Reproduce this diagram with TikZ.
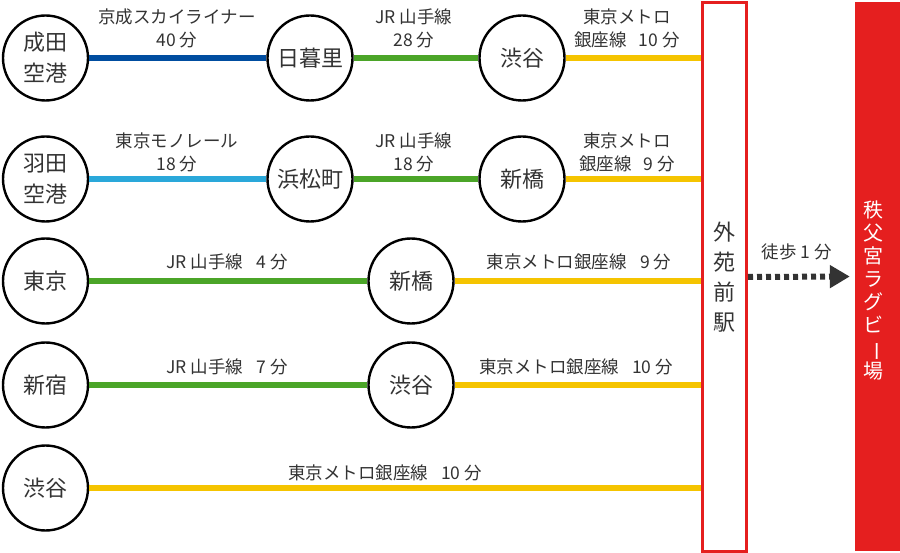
\documentclass[tikz,border=0pt]{standalone}
\usepackage{fontspec}
\setmainfont{Noto Sans CJK JP}
\usepackage{graphicx}
\usetikzlibrary{arrows.meta}
\definecolor{txtgray}{HTML}{333333}
\definecolor{keisei}{HTML}{004DA0}
\definecolor{monorail}{HTML}{2AA8DA}
\definecolor{yamanote}{HTML}{4BA528}
\definecolor{ginza}{HTML}{F5C400}
\definecolor{stadium}{HTML}{E51F1F}

\begin{document}
\begin{tikzpicture}[x=1pt,y=-1pt]
\tikzstyle{every node}+=[inner sep=0pt]
\tikzstyle{station}=[draw=black, circle, line width=2.4pt, minimum size=85pt, text=txtgray, font=\fontsize{22}{31}\selectfont, align=center]
\tikzstyle{railline}=[line width=6pt]
\tikzstyle{lbl}=[text=txtgray, font=\fontsize{17.5}{23}\selectfont, align=center]
\useasboundingbox (0,0) rectangle (900,553);
\node [draw=stadium, line width=3pt, minimum width=44pt, minimum height=548pt, text=txtgray, font=\fontsize{22}{30}\selectfont, align=center] (ekimae) at (724.5,277) {外\\苑\\前\\駅};
\node [fill=stadium, minimum width=45pt, minimum height=549pt] (rugby) at (877.5,276.5) {};
\node [text=white, font=\fontsize{20}{23}\selectfont, align=center] (rugbytext) at ([shift={(-4,14)}]rugby.center) {秩\\父\\宮\\ラ\\グ\\ビ\\\rotatebox[origin=c]{-90}{ー}\\場};
\node [station] (narita) at (45.5,58) {成田\\空港};
\node [station] (nippori) at (310,58) {日暮里};
\node [station] (shibuyaA) at (522,58) {渋谷};
\node [station] (haneda) at (45.5,179) {羽田\\空港};
\node [station] (hamamatsucho) at (310,179) {浜松町};
\node [station] (shinbashiA) at (522,179) {新橋};
\node [station] (tokyo) at (45.5,281) {東京};
\node [station] (shinbashiB) at (411,281) {新橋};
\node [station] (shinjuku) at (45.5,385) {新宿};
\node [station] (shibuyaB) at (411,385) {渋谷};
\node [station] (shibuyaC) at (45.5,488) {渋谷};
\draw [railline, keisei] (narita) -- (nippori);
\draw [railline, yamanote] (nippori) -- (shibuyaA);
\draw [railline, ginza] (shibuyaA) -- (shibuyaA -| ekimae.west);
\draw [railline, monorail] (haneda) -- (hamamatsucho);
\draw [railline, yamanote] (hamamatsucho) -- (shinbashiA);
\draw [railline, ginza] (shinbashiA) -- (shinbashiA -| ekimae.west);
\draw [railline, yamanote] (tokyo) -- (shinbashiB);
\draw [railline, ginza] (shinbashiB) -- (shinbashiB -| ekimae.west);
\draw [railline, yamanote] (shinjuku) -- (shibuyaB);
\draw [railline, ginza] (shibuyaB) -- (shibuyaB -| ekimae.west);
\draw [railline, ginza] (shibuyaC) -- (shibuyaC -| ekimae.west);
\node [lbl] (keiseilbl) at (177,28.5) {京成スカイライナー\\40 分};
\node [lbl] (yamanotelblA) at (414,28.5) {JR 山手線\\28 分};
\node [lbl] (ginzalblA) at (627,28.5) {東京メトロ\\銀座線\hspace{0.7em}10 分};
\node [lbl] (monorlbl) at (177,152) {東京モノレール\\18 分};
\node [lbl] (yamanotelblB) at (414,152) {JR 山手線\\18 分};
\node [lbl] (ginzalblB) at (627,152) {東京メトロ\\銀座線\hspace{0.7em}9 分};
\node [lbl] (yamanotelblC) at (227,262) {JR 山手線\hspace{0.75em}4 分};
\node [lbl] (ginzalblC) at (579,262) {東京メトロ銀座線\hspace{0.75em}9 分};
\node [lbl] (yamanotelblD) at (227,367) {JR 山手線\hspace{0.75em}7 分};
\node [lbl] (ginzalblD) at (576,367) {東京メトロ銀座線\hspace{0.75em}10 分};
\node [lbl] (ginzalblE) at (385,473) {東京メトロ銀座線\hspace{0.75em}10 分};
\draw [line width=6pt, txtgray, dash pattern=on 5pt off 4pt, -{Triangle[length=20pt,width=22pt]}, shorten >=5pt] (ekimae.east) -- (rugby.west);
\node [lbl] (walklbl) at (797,252) {徒歩 1 分};
\end{tikzpicture}
\end{document}
